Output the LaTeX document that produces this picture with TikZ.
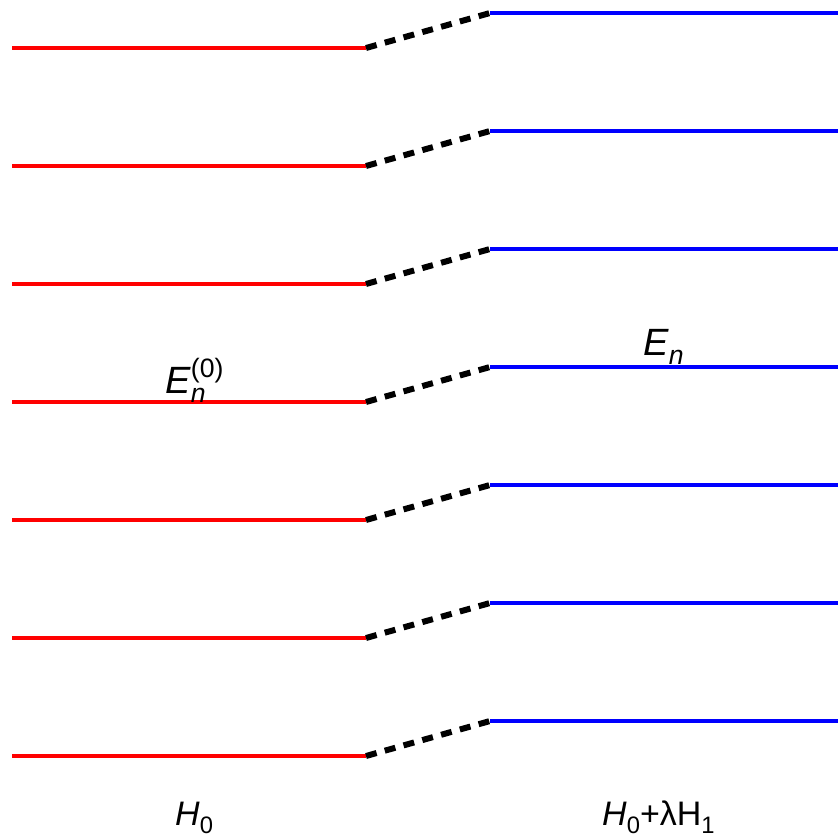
\documentclass[tikz,border=0pt]{standalone}
\usepackage{fontspec}
\setmainfont{Liberation Sans}
\usetikzlibrary{positioning}
\newcommand{\lowtxt}[1]{\raisebox{-0.24em}{\scalebox{0.7}{#1}}}
\newcommand{\hightxt}[1]{\raisebox{0.42em}{\scalebox{0.7}{#1}}}
\tikzset{
  oldlevel/.style={draw=red,line width=4pt},
  newlevel/.style={draw=blue,line width=4pt},
  shiftline/.style={draw=black,line width=6pt,dash pattern=on 11pt off 8.5pt},
  elbl/.style={font=\fontsize{38}{44}\selectfont,inner sep=0pt,anchor=base west},
  hlbl/.style={font=\fontsize{34}{40}\selectfont,inner sep=0pt,anchor=base west},
}
\begin{document}
\begin{tikzpicture}[x=1pt,y=-1pt]
\useasboundingbox (0,0) rectangle (838,838);
% energy levels
\foreach \i in {0,...,6}{
  \coordinate (red\i-l) at (12,48+118*\i);
  \coordinate (red\i-r) at (366,48+118*\i);
  \coordinate (blue\i-l) at (490,13+118*\i);
  \coordinate (blue\i-r) at (838,13+118*\i);
  \draw[oldlevel] (red\i-l) -- (red\i-r);
  \draw[shiftline] (red\i-r) -- (blue\i-l);
  \draw[newlevel] (blue\i-l) -- (blue\i-r);
}
% labels
\node[elbl] (eold) at (165,393) {\textit{E}\rlap{\lowtxt{\textit{n}}}\hightxt{(0)}};
\node[elbl] (enew) at (643,355) {\textit{E}\lowtxt{\textit{n}}};
\node[hlbl] (hold) at (175,825) {\textit{H}\lowtxt{0}};
\node[hlbl] (hnew) at (602,825) {\textit{H}\lowtxt{0}+λH\lowtxt{1}};
\end{tikzpicture}
\end{document}
